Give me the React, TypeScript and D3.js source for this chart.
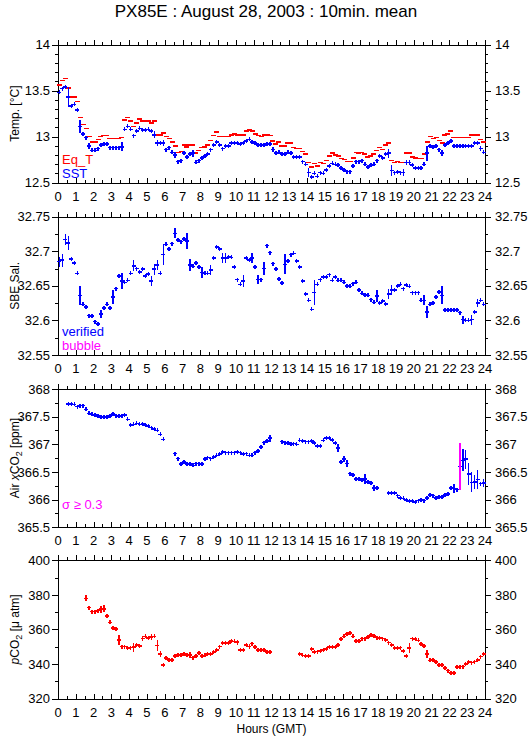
import React from "react";
import * as d3 from "d3";

// ---------------- DATA (10-minute means, 144 bins per day) ----------------
const hourTicks = d3.range(0, 25);
const halfHourTicks = d3.range(0.5, 24, 1);
const binTimes = d3.range(144).map((i) => (i + 0.5) / 6);

// Sea surface temperature (blue)
const sst = [
  13.48, 13.52, 13.54, 13.43, 13.33, 13.35,
  13.29, 13.11, 13.03, 12.99, 12.90, 12.85,
  12.85, 12.87, 12.91, 12.92, 12.92, 12.88,
  12.88, 12.88, 12.88, 12.89, 13.08, 13.11,
  13.08, 13.01, 13.06, 13.09, 13.07, 13.07,
  13.08, 13.06, 13.02, 12.93, 12.93, 12.93,
  12.86, 12.88, 12.83, 12.80, 12.73, 12.74,
  12.82, 12.78, 12.81, 12.82, 12.72, 12.74,
  12.77, 12.79, 12.81, 12.86, 12.91, 12.94,
  12.91, 12.87, 12.90, 12.90, 12.93, 12.93,
  12.93, 12.92, 12.93, 12.95, 12.97, 12.94,
  12.93, 12.91, 12.91, 12.91, 12.92, 12.92,
  12.86, 12.82, 12.83, 12.81, 12.81, 12.83,
  12.82, 12.78, 12.78, 12.78, 12.73, 12.70,
  12.61, 12.56, 12.60, 12.57, 12.61, 12.60,
  12.64, 12.68, 12.71, 12.70, 12.69, 12.66,
  12.64, 12.62, 12.62, 12.68, 12.73, 12.73,
  12.74, 12.70, 12.67, 12.69, 12.70, 12.74,
  12.79, 12.77, 12.81, 12.82, 12.63, 12.61,
  12.62, 12.61, 12.61, 12.72, 12.72, 12.69,
  12.66, 12.66, 12.66, 12.70, 12.82, 12.90,
  12.89, 12.90, 12.86, 12.82, 12.91, 12.93,
  12.95, 12.90, 12.90, 12.90, 12.90, 12.90,
  12.90, 12.90, 12.93, 12.93, 12.87, 12.83,
];
// [bin index, standard deviation]
const sstSd: [number, number][] = [
  [3, 0.11], [7, 0.07], [10, 0.03], [21, 0.05], [32, 0.04], [33, 0.03], [35, 0.03],
  [39, 0.035], [45, 0.04], [72, 0.03], [84, 0.045], [92, 0.02], [111, 0.05],
  [112, 0.06], [116, 0.04], [117, 0.03], [118, 0.03], [124, 0.08], [129, 0.03], [142, 0.03],
];

// Equilibrator temperature (red)
const eqT = [
  13.56, 13.61, 13.63, 13.53, 13.43, 13.43,
  13.38, 13.21, 13.13, 13.09, 13.00, 12.94,
  12.94, 12.97, 13.00, 13.01, 13.01, 12.98,
  12.98, 12.98, 12.98, 12.99, 13.18, 13.21,
  13.17, 13.11, 13.15, 13.19, 13.17, 13.17,
  13.17, 13.15, 13.17, 13.02, 13.02, 13.04,
  13.00, 12.98, 12.94, 12.90, 12.83, 12.84,
  12.91, 12.89, 12.91, 12.91, 12.82, 12.85,
  12.88, 12.89, 12.91, 12.96, 13.01, 13.05,
  13.00, 13.00, 13.00, 13.00, 13.02, 13.03,
  13.02, 13.02, 13.02, 13.06, 13.07, 13.06,
  13.03, 13.01, 13.00, 13.02, 13.02, 13.01,
  12.95, 12.92, 12.94, 12.90, 12.90, 12.93,
  12.93, 12.88, 12.87, 12.87, 12.84, 12.81,
  12.72, 12.67, 12.71, 12.68, 12.72, 12.71,
  12.74, 12.79, 12.82, 12.80, 12.79, 12.76,
  12.75, 12.73, 12.73, 12.77, 12.83, 12.82,
  12.83, 12.81, 12.78, 12.79, 12.81, 12.85,
  12.88, 12.86, 12.91, 12.93, 12.74, 12.72,
  12.73, 12.72, 12.72, 12.82, 12.82, 12.78,
  12.77, 12.76, 12.76, 12.81, 12.94, 13.00,
  12.98, 12.99, 12.96, 12.93, 13.02, 13.03,
  13.06, 12.99, 12.99, 12.99, 12.99, 12.99,
  12.99, 13.02, 13.02, 13.02, 12.97, 12.94,
];

// SBE salinity (blue, verified)
const salinity = [
  32.685, 32.687, 32.717, 32.712, 32.689, 32.683,
  32.668, 32.636, 32.623, 32.619, 32.607, 32.606,
  32.598, 32.595, 32.609, 32.618, 32.623, 32.618,
  32.634, 32.646, 32.664, 32.657, 32.655, 32.658,
  32.668, 32.679, 32.675, 32.670, 32.674, 32.664,
  32.667, 32.657, 32.674, 32.680, 32.668, 32.695,
  32.710, 32.703, 32.711, 32.726, 32.716, 32.714,
  32.718, 32.715, 32.680, 32.678, 32.683, 32.677,
  32.669, 32.668, 32.668, 32.673, 32.690, 32.706,
  32.703, 32.690, 32.690, 32.692, 32.691, 32.677,
  32.659, 32.652, 32.657, 32.690, 32.687, 32.690,
  32.677, 32.659, 32.659, 32.675, 32.708, 32.698,
  32.682, 32.674, 32.660, 32.654, 32.681, 32.686,
  32.695, 32.697, 32.686, 32.677, 32.657, 32.638,
  32.629, 32.616, 32.640, 32.652, 32.659, 32.663,
  32.663, 32.666, 32.658, 32.663, 32.658, 32.658,
  32.655, 32.650, 32.649, 32.653, 32.655, 32.644,
  32.639, 32.637, 32.636, 32.630, 32.626, 32.635,
  32.625, 32.628, 32.624, 32.638, 32.644, 32.644,
  32.650, 32.652, 32.646, 32.651, 32.649, 32.640,
  32.640, 32.640, 32.629, 32.629, 32.612, 32.623,
  32.625, 32.634, 32.641, 32.636, 32.615, 32.615,
  32.615, 32.615, 32.615, 32.611, 32.601, 32.600,
  32.600, 32.601, 32.612, 32.625, 32.629, 32.623,
];
const salinitySd: [number, number][] = [
  [0, 0.0073], [1, 0.0097], [2, 0.0082], [3, 0.0107], [7, 0.0131], [14, 0.006],
  [18, 0.0097], [21, 0.0121], [25, 0.0082], [31, 0.0073], [32, 0.0082], [33, 0.0073],
  [35, 0.0155], [39, 0.0073], [43, 0.0121], [44, 0.0082], [48, 0.0082], [51, 0.0073],
  [55, 0.0073], [56, 0.0073], [62, 0.0082], [65, 0.0073], [67, 0.006], [69, 0.0097],
  [76, 0.0145], [86, 0.018], [107, 0.0082], [111, 0.0073], [112, 0.0078], [123, 0.0073],
  [124, 0.0082], [129, 0.013], [136, 0.006], [139, 0.0073], [141, 0.006],
];

// Air xCO2 (blue), null = no measurement
const airXco2: (number | null)[] = [
  null, null, null, 367.73, 367.73, 367.72,
  367.68, 367.70, 367.70, 367.63, 367.56, 367.54,
  367.53, 367.51, 367.49, 367.50, 367.49, 367.51,
  367.55, 367.52, 367.51, 367.52, 367.53, 367.45,
  367.35, 367.36, 367.38, 367.36, 367.37, 367.35,
  367.33, 367.30, 367.28, 367.25, 367.18, 367.09,
  null, null, null, 366.83, 366.74, 366.64,
  366.68, 366.64, 366.64, 366.62, 366.65, 366.65,
  366.64, 366.73, 366.76, 366.74, 366.77, 366.80,
  366.82, 366.86, 366.85, 366.85, 366.85, 366.85,
  366.86, 366.85, 366.82, 366.83, 366.80, 366.80,
  366.85, 366.88, 366.95, 367.03, 367.06, 367.11,
  null, null, null, 367.05, 367.03, 367.02,
  367.00, 367.01, 367.00, 367.07, 367.06, 367.05,
  367.05, 367.06, 367.02, 366.97, 366.97, 367.07,
  367.11, 367.11, 367.08, 367.02, 366.93, 366.68,
  366.73, 366.65, 366.47, 366.44, 366.37, 366.38,
  366.35, 366.37, 366.32, 366.30, 366.21, 366.21,
  null, null, null, 366.12, 366.12, 366.12,
  366.07, 366.03, 366.02, 365.99, 365.97, 365.97,
  365.96, 365.98, 365.99, 365.98, 366.03, 366.08,
  366.07, 366.03, 366.05, 366.05, 366.08, 366.10,
  366.21, 366.20, 366.18, 366.60, 366.71, 366.73,
  366.46, 366.31, 366.32, 366.36, 366.29, 366.30,
];
const airXco2Sd: [number, number][] = [
  [71, 0.06], [94, 0.075], [96, 0.05], [97, 0.07], [103, 0.09], [106, 0.06],
  [133, 0.075], [135, 0.43], [136, 0.2], [137, 0.17], [138, 0.2], [139, 0.18],
  [140, 0.12], [141, 0.17], [143, 0.066],
];
const sigmaLimit = 0.3;

// Seawater pCO2 (red)
const pco2: (number | null)[] = [
  null, null, null, null, null, null,
  null, null, null, 378.0, 372.6, 370.3,
  370.3, 370.9, 371.7, 371.9, 367.8, 364.0,
  360.7, 360.1, 353.9, 350.1, 350.1, 349.1,
  349.5, 349.7, 350.9, 350.5, 354.7, 355.9,
  355.1, 355.5, 355.9, 350.7, 345.7, 339.3,
  343.4, 342.4, 342.4, 344.7, 345.1, 344.9,
  345.9, 345.3, 345.3, 343.7, 344.7, 346.2,
  344.7, 344.9, 345.7, 345.9, 347.0, 348.2,
  350.1, 352.0, 352.0, 352.0, 353.4, 353.0,
  352.6, 348.2, 348.2, 350.9, 350.1, 351.8,
  349.7, 348.2, 348.2, 348.2, 347.0, 346.8,
  null, null, null, null, null, null,
  null, null, null, 345.9, 344.9, 344.5,
  344.7, 348.6, 346.8, 347.2, 347.6, 348.2,
  348.7, 349.7, 349.7, 349.7, 351.1, 354.3,
  355.9, 357.2, 357.8, 355.9, 353.4, 353.4,
  354.7, 354.7, 355.5, 356.8, 356.3, 355.3,
  354.9, 354.7, 353.9, 352.4, 351.1, 349.1,
  349.1, 349.5, 347.4, 344.7, 349.1, 354.7,
  354.3, 353.6, 351.6, 350.5, 345.7, 342.0,
  342.4, 341.0, 339.5, 339.5, 337.6, 336.2,
  334.7, 334.7, 338.3, 338.5, 338.5, 339.9,
  341.0, 340.8, 341.4, 342.4, 344.3, 345.7,
];
const pco2Sd: [number, number][] = [
  [9, 1.7], [14, 2.0], [15, 2.1], [20, 2.9], [25, 2.7], [28, 1.6], [31, 1.6],
  [33, 3.2], [34, 1.6], [44, 1.8], [60, 1.5], [64, 1.2], [118, 2.9], [124, 2.4],
];

// axis tick values
const tempTicks = [12.5, 13, 13.5, 14];
const salTicks = [32.55, 32.6, 32.65, 32.7, 32.75];
const xco2Ticks = [365.5, 366, 366.5, 367, 367.5, 368];
const pco2Ticks = [320, 340, 360, 380, 400];

// ---------------- LAYOUT ----------------
const W = 529;
const H = 739;
const X0 = 58;
const X1 = 485;
const PANEL_TOPS = [44.5, 216.7, 389, 560.3];
const PANEL_H = 138.2;
const FONT = "'Liberation Sans', Arial, Helvetica, sans-serif";
const BLUE = "#0000ff";
const RED = "#ff0000";
const MAGENTA = "#ff00ff";

type Series = {
  values: (number | null)[];
  sd?: [number, number][];
  color: string;
  dashOnly?: boolean;
  bigColor?: string;
  bigLimit?: number;
};

type PanelCfg = {
  domain: [number, number];
  ticks: number[];
  minorStep: number;
  series: Series[];
  legend: { text: string; color: string; row: number }[];
  title: React.ReactNode;
};

const xScale = d3.scaleLinear().domain([0, 24]).range([X0, X1]);

function fmt(v: number) {
  return String(+v.toFixed(3));
}

function Panel({ cfg, top }: { cfg: PanelCfg; top: number }) {
  const bottom = top + PANEL_H;
  const y = d3.scaleLinear().domain(cfg.domain).range([bottom, top]);
  const [d0, d1] = cfg.domain;
  const nMinor = Math.round((d1 - d0) / cfg.minorStep);
  const minor = d3.range(nMinor + 1).map((i) => d0 + i * cfg.minorStep);

  const tickPath = d3.path();
  // x ticks: all point upward
  hourTicks.forEach((h) => {
    const xx = Math.round(xScale(h)) + 0.5;
    tickPath.moveTo(xx, top);
    tickPath.lineTo(xx, top - 5);
    tickPath.moveTo(xx, bottom);
    tickPath.lineTo(xx, bottom - 5);
  });
  halfHourTicks.forEach((h) => {
    const xx = Math.round(xScale(h)) + 0.5;
    tickPath.moveTo(xx, top);
    tickPath.lineTo(xx, top - 3);
    tickPath.moveTo(xx, bottom);
    tickPath.lineTo(xx, bottom - 3);
  });
  minor.forEach((v) => {
    const yy = Math.round(y(v)) + 0.5;
    const isMajor = cfg.ticks.some((t) => Math.abs(t - v) < 1e-6);
    const len = isMajor ? 6 : 3;
    tickPath.moveTo(X0, yy);
    tickPath.lineTo(X0 - len, yy);
    tickPath.moveTo(X1, yy);
    tickPath.lineTo(X1 + len, yy);
  });

  return (
    <g>
      <rect
        x={Math.round(X0) + 0.5}
        y={Math.round(top) + 0.5}
        width={Math.round(X1) - Math.round(X0)}
        height={Math.round(bottom) - Math.round(top)}
        fill="none"
        stroke="#000"
        strokeWidth={1}
        shapeRendering="crispEdges"
      />
      <path d={tickPath.toString()} stroke="#000" strokeWidth={1} fill="none" shapeRendering="crispEdges" />
      {cfg.ticks.map((t) => (
        <g key={"yt" + t}>
          <text x={X0 - 8} y={y(t)} dy="0.36em" textAnchor="end" fontSize={13} fontFamily={FONT}>
            {fmt(t)}
          </text>
          <text x={X1 + 10} y={y(t)} dy="0.36em" textAnchor="start" fontSize={13} fontFamily={FONT}>
            {fmt(t)}
          </text>
        </g>
      ))}
      {hourTicks.map((h) => (
        <text key={"xt" + h} x={xScale(h)} y={bottom + 18} textAnchor="middle" fontSize={13} fontFamily={FONT}>
          {h}
        </text>
      ))}
      <text
        transform={`translate(19,${(top + bottom) / 2}) rotate(-90)`}
        textAnchor="middle"
        fontSize={12}
        fontFamily={FONT}
      >
        {cfg.title}
      </text>
      {cfg.series.map((s, si) => {
        const sdMap = new Map(s.sd || []);
        const main = d3.path();
        const big = d3.path();
        s.values.forEach((v, i) => {
          if (v === null || v === undefined) return;
          const cx = xScale(binTimes[i]);
          const cy = y(v);
          const hw = s.dashOnly ? 2.5 : 2;
          main.moveTo(cx - hw, cy);
          main.lineTo(cx + hw, cy);
          if (!s.dashOnly) {
            const sd = sdMap.get(i) || 0;
            const ya = Math.min(y(v + sd), cy - 2);
            const yb = Math.max(y(v - sd), cy + 2);
            const target = s.bigLimit !== undefined && sd >= s.bigLimit ? big : main;
            target.moveTo(cx, ya);
            target.lineTo(cx, yb);
          }
        });
        return (
          <g key={"s" + si}>
            <path d={main.toString()} stroke={s.color} strokeWidth={1.5} fill="none" shapeRendering="crispEdges" />
            <path d={big.toString()} stroke={s.bigColor || s.color} strokeWidth={1.5} fill="none" shapeRendering="crispEdges" />
          </g>
        );
      })}
      {cfg.legend.map((l) => (
        <text
          key={l.text}
          x={62}
          y={bottom - 5 - l.row * 13.5}
          fontSize={13}
          fontFamily={FONT}
          fill={l.color}
        >
          {l.text}
        </text>
      ))}
    </g>
  );
}

const panels: PanelCfg[] = [
  {
    domain: [12.5, 14],
    ticks: tempTicks,
    minorStep: 0.1,
    series: [
      { values: eqT, color: RED, dashOnly: true },
      { values: sst, sd: sstSd, color: BLUE },
    ],
    legend: [
      { text: "Eq_T", color: RED, row: 1 },
      { text: "SST", color: BLUE, row: 0 },
    ],
    title: "Temp. [°C]",
  },
  {
    domain: [32.55, 32.75],
    ticks: salTicks,
    minorStep: 0.025,
    series: [{ values: salinity, sd: salinitySd, color: BLUE }],
    legend: [
      { text: "verified", color: BLUE, row: 1 },
      { text: "bubble", color: MAGENTA, row: 0 },
    ],
    title: "SBE Sal.",
  },
  {
    domain: [365.5, 368],
    ticks: xco2Ticks,
    minorStep: 0.25,
    series: [
      { values: airXco2, sd: airXco2Sd, color: BLUE, bigColor: MAGENTA, bigLimit: sigmaLimit },
    ],
    legend: [{ text: "σ ≥ 0.3", color: MAGENTA, row: 1 }],
    title: (
      <>
        <tspan>Air </tspan>
        <tspan fontStyle="italic">x</tspan>
        <tspan>CO</tspan>
        <tspan dy={3} fontSize={9}>2</tspan>
        <tspan dy={-3}> [ppm]</tspan>
      </>
    ),
  },
  {
    domain: [320, 400],
    ticks: pco2Ticks,
    minorStep: 10,
    series: [{ values: pco2, sd: pco2Sd, color: RED }],
    legend: [],
    title: (
      <>
        <tspan fontStyle="italic">p</tspan>
        <tspan>CO</tspan>
        <tspan dy={3} fontSize={9}>2</tspan>
        <tspan dy={-3}> [μ atm]</tspan>
      </>
    ),
  },
];

export default function App() {
  return (
    <svg
      width={W}
      height={H}
      viewBox={`0 0 ${W} ${H}`}
      style={{ position: "absolute", left: 0, top: 0, background: "#fff" }}
    >
      <rect x={0} y={0} width={W} height={H} fill="#fff" />
      <text x={266} y={17} textAnchor="middle" fontSize={17} fontFamily={FONT}>
        PX85E : August 28, 2003 : 10min. mean
      </text>
      {panels.map((p, i) => (
        <Panel key={i} cfg={p} top={PANEL_TOPS[i]} />
      ))}
      <text x={(X0 + X1) / 2} y={733} textAnchor="middle" fontSize={12} fontFamily={FONT}>
        Hours (GMT)
      </text>
    </svg>
  );
}
